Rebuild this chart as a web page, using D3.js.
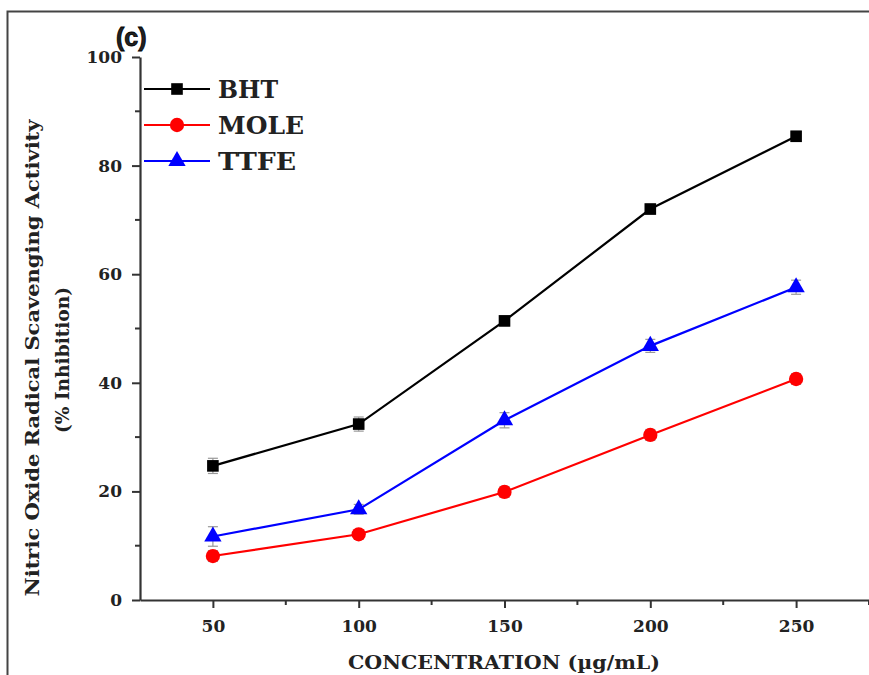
<!DOCTYPE html>
<html>
<head>
<meta charset="utf-8">
<script src="https://cdn.jsdelivr.net/npm/d3@7"></script>
<style>
  body { margin: 0; background: #fff; overflow: hidden; }
  text { font-family: "DejaVu Serif", serif; font-weight: bold; fill: #222; }
</style>
</head>
<body>
<div id="chart"></div>
<script>
// data
const concentrations = [50, 100, 150, 200, 250];
const bhtValues  = [24.7, 32.4, 51.4, 72.0, 85.4];
const bhtErr     = [1.4, 1.3, 0.9, 0.9, 0.9];
const moleValues = [8.1, 12.1, 19.9, 30.4, 40.7];
const moleErr    = [1.0, 0.8, 1.0, 1.0, 1.0];
const ttfeValues = [11.7, 16.7, 33.1, 46.8, 57.6];
const ttfeErr    = [1.8, 0.9, 1.4, 1.2, 1.3];
const seriesNames = ["BHT", "MOLE", "TTFE"];
const xTicks = [50, 100, 150, 200, 250];
const yTicks = [0, 20, 40, 60, 80, 100];

const width = 869, height = 675;
const margin = {left: 140, top: 57, right: 0, bottom: 75};

const svg = d3.select("#chart").append("svg")
    .attr("width", width)
    .attr("height", height)
    .style("display", "block");

// outer frame (only top and left visible)
svg.append("path")
    .attr("d", "M7.5,675 V11.5 H869")
    .attr("fill", "none")
    .attr("stroke", "#444")
    .attr("stroke-width", 2);

const x = d3.scaleLinear().domain([25, 275]).range([margin.left, width - margin.right]);
const y = d3.scaleLinear().domain([0, 100]).range([height - margin.bottom, margin.top]);

const series = [
    {name: seriesNames[0], vals: bhtValues, err: bhtErr, color: "#000000", shape: d3.symbolSquare, size: 135, tl: 60},
    {name: seriesNames[1], vals: moleValues, err: moleErr, color: "#ff0000", shape: d3.symbolCircle, size: 160, tl: 86},
    {name: seriesNames[2], vals: ttfeValues, err: ttfeErr, color: "#0000ff", shape: d3.symbolTriangle, size: 130, tl: 78}
];

// axes
const xAxis = d3.axisBottom(x).tickValues(xTicks).tickSize(8).tickPadding(12).tickSizeOuter(0);
const yAxis = d3.axisLeft(y).tickValues(yTicks).tickSize(8).tickPadding(10).tickSizeOuter(0);

const gx = svg.append("g")
    .attr("transform", "translate(0," + y(0) + ")")
    .call(xAxis);
const gy = svg.append("g")
    .attr("transform", "translate(" + x(25) + ",0)")
    .call(yAxis);

// minor ticks
gx.selectAll(".minor").data([75, 125, 175, 225, 275]).enter()
    .append("line").attr("class", "minor")
    .attr("x1", d => x(d)).attr("x2", d => x(d))
    .attr("y1", 0).attr("y2", 5)
    .attr("stroke", "#333").attr("stroke-width", 2);
gy.selectAll(".minor").data([10, 30, 50, 70, 90]).enter()
    .append("line").attr("class", "minor")
    .attr("y1", d => y(d)).attr("y2", d => y(d))
    .attr("x1", 0).attr("x2", -5)
    .attr("stroke", "#333").attr("stroke-width", 2);

[gx, gy].forEach(g => {
    g.selectAll(".domain").attr("stroke", "#333").attr("stroke-width", 2.2);
    g.selectAll(".tick line").attr("stroke", "#333").attr("stroke-width", 2);
    g.selectAll(".tick text")
        .style("font-family", "DejaVu Serif, serif")
        .style("font-weight", "bold")
        .style("font-size", "17px")
        .attr("fill", "#222");
});

// lines, error bars, markers
const line = d3.line()
    .x((d, i) => x(concentrations[i]))
    .y(d => y(d));

series.forEach(s => {
    const g = svg.append("g");
    g.append("path")
        .datum(s.vals)
        .attr("d", line)
        .attr("fill", "none")
        .attr("stroke", s.color)
        .attr("stroke-width", 2.2);

    const eb = g.selectAll(".err").data(s.vals).enter().append("g");
    eb.append("line")
        .attr("x1", (d, i) => x(concentrations[i])).attr("x2", (d, i) => x(concentrations[i]))
        .attr("y1", (d, i) => y(d + s.err[i])).attr("y2", (d, i) => y(d - s.err[i]))
        .attr("stroke", "#999").attr("stroke-width", 1.2);
    eb.append("line")
        .attr("x1", (d, i) => x(concentrations[i]) - 5).attr("x2", (d, i) => x(concentrations[i]) + 5)
        .attr("y1", (d, i) => y(d + s.err[i])).attr("y2", (d, i) => y(d + s.err[i]))
        .attr("stroke", "#999").attr("stroke-width", 1.2);
    eb.append("line")
        .attr("x1", (d, i) => x(concentrations[i]) - 5).attr("x2", (d, i) => x(concentrations[i]) + 5)
        .attr("y1", (d, i) => y(d - s.err[i])).attr("y2", (d, i) => y(d - s.err[i]))
        .attr("stroke", "#999").attr("stroke-width", 1.2);

    g.selectAll(".pt").data(s.vals).enter()
        .append("path")
        .attr("d", d3.symbol().type(s.shape).size(s.size))
        .attr("transform", (d, i) => "translate(" + x(concentrations[i]) + "," + y(d) + ")")
        .attr("fill", s.color);
});

// legend
const legend = svg.append("g");
series.forEach((s, i) => {
    const ly = 89 + i * 36;
    legend.append("line")
        .attr("x1", 144).attr("x2", 210)
        .attr("y1", ly).attr("y2", ly)
        .attr("stroke", s.color).attr("stroke-width", 2.2);
    legend.append("path")
        .attr("d", d3.symbol().type(s.shape).size(s.size))
        .attr("transform", "translate(177," + ly + ")")
        .attr("fill", s.color);
    legend.append("text")
        .attr("x", 218).attr("y", ly + 9)
        .style("font-size", "24px")
        .attr("textLength", s.tl)
        .attr("lengthAdjust", "spacingAndGlyphs")
        .attr("fill", "#111")
        .text(s.name);
});

// panel label
svg.append("text")
    .attr("x", 116).attr("y", 46)
    .style("font-family", "Liberation Sans, Arial, sans-serif")
    .style("font-size", "25px")
    .style("font-weight", "900")
    .attr("fill", "#000")
    .attr("stroke", "#000")
    .attr("stroke-width", 0.8)
    .text("(c)");

// axis titles
svg.append("text")
    .attr("transform", "translate(39,358) rotate(-90)")
    .attr("text-anchor", "middle")
    .style("font-size", "18px")
    .attr("textLength", 477)
    .attr("lengthAdjust", "spacingAndGlyphs")
    .text("Nitric Oxide Radical Scavenging Activity");
svg.append("text")
    .attr("transform", "translate(69,360) rotate(-90)")
    .attr("text-anchor", "middle")
    .style("font-size", "18px")
    .attr("textLength", 146)
    .attr("lengthAdjust", "spacingAndGlyphs")
    .text("(% Inhibition)");

svg.append("text")
    .attr("x", 504).attr("y", 669)
    .attr("text-anchor", "middle")
    .style("font-size", "19px")
    .attr("textLength", 312)
    .attr("lengthAdjust", "spacingAndGlyphs")
    .text("CONCENTRATION (\u00b5g/mL)");
</script>
</body>
</html>
